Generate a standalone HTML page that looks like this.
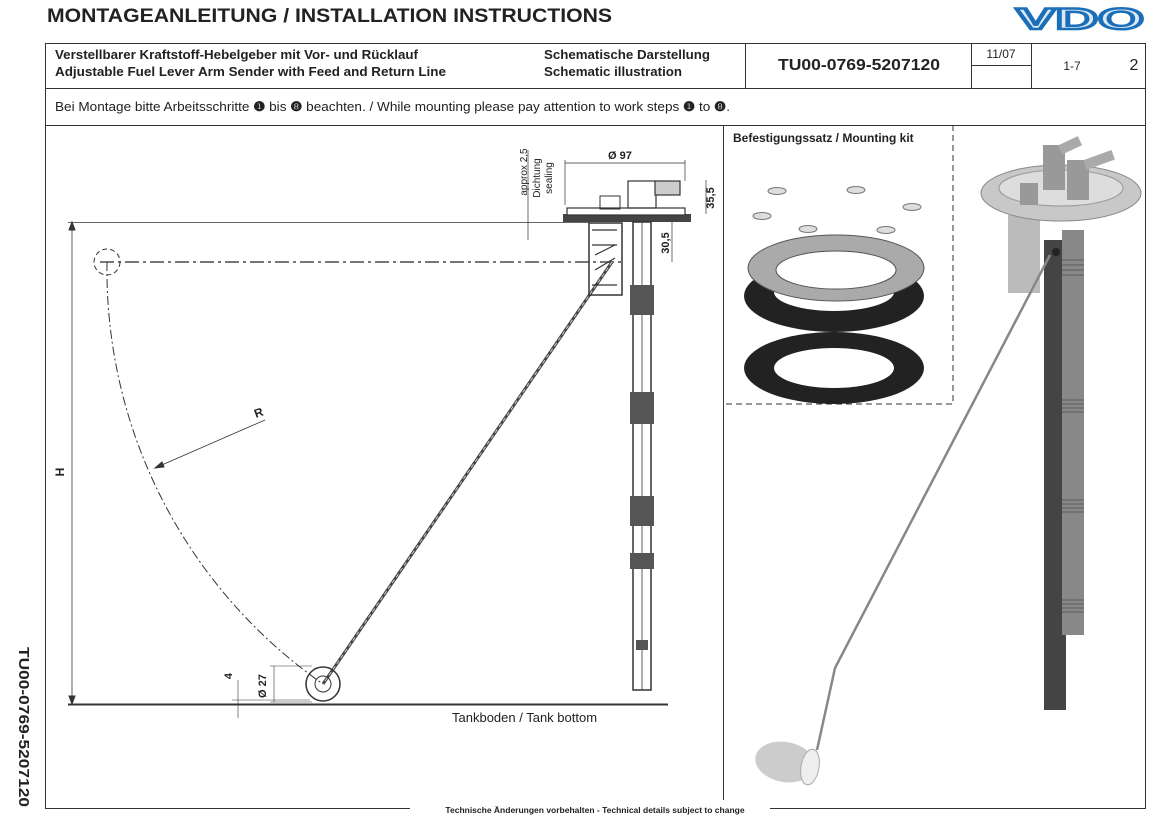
<!DOCTYPE html>
<html><head><meta charset="utf-8"><style>
html,body{margin:0;padding:0;background:#fff;}
body{width:1162px;height:829px;position:relative;overflow:hidden;font-family:"Liberation Sans",sans-serif;}
</style></head><body>
<svg width="1162" height="829" viewBox="0 0 1162 829" xmlns="http://www.w3.org/2000/svg" font-family="Liberation Sans, sans-serif">
<!-- title -->
<text x="47" y="22" font-size="19.5" font-weight="bold" fill="#222" textLength="565" lengthAdjust="spacingAndGlyphs">MONTAGEANLEITUNG  /  INSTALLATION INSTRUCTIONS</text>
<text x="1016" y="29" font-size="30" font-weight="bold" fill="#dbe9f6" stroke="#1a6fb8" stroke-width="2.5" textLength="128" lengthAdjust="spacingAndGlyphs">VDO</text>
<!-- header table -->
<g stroke="#333" stroke-width="1" fill="none">
<rect x="45.5" y="43.5" width="1100" height="765"/>
<line x1="45" y1="88.5" x2="1146" y2="88.5"/>
<line x1="45" y1="125.5" x2="1146" y2="125.5"/>
<line x1="745.5" y1="43" x2="745.5" y2="88"/>
<line x1="971.5" y1="43" x2="971.5" y2="88"/>
<line x1="1031.5" y1="43" x2="1031.5" y2="88"/>
<line x1="971" y1="65.5" x2="1031" y2="65.5"/>
<line x1="723.5" y1="125" x2="723.5" y2="800"/>
</g>
<rect x="410" y="800" width="360" height="14" fill="#fff"/>
<g font-size="12.5" font-weight="bold" fill="#222">
<text x="55" y="59" textLength="363" lengthAdjust="spacingAndGlyphs">Verstellbarer Kraftstoff-Hebelgeber mit Vor- und Rücklauf</text>
<text x="55" y="76" textLength="391" lengthAdjust="spacingAndGlyphs">Adjustable Fuel Lever Arm Sender with Feed and Return Line</text>
<text x="544" y="59" textLength="166" lengthAdjust="spacingAndGlyphs">Schematische Darstellung</text>
<text x="544" y="76" textLength="138" lengthAdjust="spacingAndGlyphs">Schematic illustration</text>
<text x="778" y="70" font-size="16" textLength="162" lengthAdjust="spacingAndGlyphs">TU00-0769-5207120</text>
</g>
<text x="1001" y="58" font-size="12" text-anchor="middle" fill="#222">11/07</text>
<text x="1072" y="70" font-size="12" text-anchor="middle" fill="#222">1-7</text>
<text x="1134" y="70" font-size="16" text-anchor="middle" fill="#222">2</text>
<text x="55" y="111" font-size="13" fill="#222" textLength="675" lengthAdjust="spacingAndGlyphs">Bei Montage bitte Arbeitsschritte <tspan font-weight="bold">❶</tspan> bis <tspan font-weight="bold">❽</tspan> beachten. / While mounting please pay attention to work steps <tspan font-weight="bold">❶</tspan> to <tspan font-weight="bold">❽</tspan>.</text>
<text x="595" y="813" font-size="8.5" font-weight="bold" text-anchor="middle" fill="#222">Technische Änderungen vorbehalten  -  Technical details subject to change</text>
<text transform="translate(19,647) rotate(90)" font-size="15" font-weight="bold" fill="#222" textLength="160" lengthAdjust="spacingAndGlyphs">TU00-0769-5207120</text>

<!-- drawing left -->
<g stroke="#333" fill="none">
<line x1="68" y1="704.5" x2="668" y2="704.5" stroke-width="2"/>
<line x1="68" y1="222.5" x2="590" y2="222.5" stroke-width="0.8"/>
<line x1="72" y1="226" x2="72" y2="700" stroke-width="0.8"/>
<path d="M72 222 l-3 8 h6z M72 704 l-3 -8 h6z" fill="#333"/>
<line x1="100" y1="262" x2="625" y2="262" stroke-width="2" stroke-dasharray="14,4,3,4" stroke="#777"/>
<path d="M107 262 A505 505 0 0 0 323 684" stroke-width="1" stroke-dasharray="9,3,2,3"/>
<circle cx="107" cy="262" r="13" stroke-width="1" stroke-dasharray="5,3"/>
<line x1="612" y1="262" x2="323" y2="684" stroke-width="3" stroke="#444"/>
<line x1="612" y1="262" x2="323" y2="684" stroke-width="1" stroke="#ccc" stroke-dasharray="4,3"/>
<circle cx="323" cy="684" r="17" stroke-width="1.5"/>
<circle cx="323" cy="684" r="8" stroke-width="1"/>
<line x1="155" y1="468" x2="265" y2="420" stroke-width="0.8"/>
<path d="M155 468 l7 -6 l2 5z" fill="#333"/>
<line x1="270" y1="666" x2="312" y2="666" stroke-width="0.6"/>
<line x1="270" y1="702" x2="312" y2="702" stroke-width="0.6"/>
<line x1="274" y1="666" x2="274" y2="702" stroke-width="0.6"/>
<line x1="238" y1="680" x2="238" y2="718" stroke-width="0.6"/>
<line x1="232" y1="700" x2="310" y2="700" stroke-width="0.6"/>
<!-- flange -->
<rect x="563" y="214" width="128" height="8" fill="#444" stroke="none"/>
<rect x="567" y="208" width="118" height="7" fill="#fff" stroke-width="1.2"/>
<rect x="600" y="196" width="20" height="13" stroke-width="1"/>
<rect x="628" y="181" width="28" height="27" stroke-width="1.2"/>
<rect x="655" y="181" width="25" height="14" stroke-width="1.2" fill="#ccc"/>
<line x1="565" y1="163" x2="685" y2="163" stroke-width="0.7"/>
<line x1="565" y1="160" x2="565" y2="205" stroke-width="0.7"/>
<line x1="685" y1="160" x2="685" y2="181" stroke-width="0.7"/>
<line x1="706" y1="180" x2="706" y2="214" stroke-width="0.7"/>
<line x1="672" y1="222" x2="672" y2="262" stroke-width="0.7"/>
<line x1="528" y1="150" x2="528" y2="240" stroke-width="0.7"/>
<!-- bracket -->
<rect x="589" y="223" width="33" height="72" stroke-width="1.5"/>
<path d="M592 230 h25 M592 245 h25 M595 255 l20 -10 M595 270 l20 -12 M592 285 h25" stroke-width="1.2"/>
<!-- tube -->
<rect x="633" y="222" width="18" height="468" fill="#fff" stroke-width="1.5"/>
<line x1="642" y1="222" x2="642" y2="690" stroke-width="0.8"/>
</g>
<g fill="#555">
<rect x="630" y="285" width="24" height="30"/>
<rect x="630" y="392" width="24" height="32"/>
<rect x="630" y="496" width="24" height="30"/>
<rect x="630" y="553" width="24" height="16"/>
<rect x="636" y="640" width="12" height="10"/>
</g>
<g font-size="11" font-weight="bold" fill="#222">
<text x="608" y="159">Ø 97</text>
<text x="64" y="472" transform="rotate(-90 64 472)" text-anchor="middle" font-size="12">H</text>
<text x="256" y="418" transform="rotate(-20 256 418)" font-size="12">R</text>
<text x="266" y="686" transform="rotate(-90 266 686)" text-anchor="middle">Ø 27</text>
<text x="232" y="676" transform="rotate(-90 232 676)" text-anchor="middle">4</text>
<text x="714" y="198" transform="rotate(-90 714 198)" text-anchor="middle">35,5</text>
<text x="669" y="243" transform="rotate(-90 669 243)" text-anchor="middle">30,5</text>
</g>
<g font-size="10" fill="#222">
<text x="527" y="172" transform="rotate(-90 527 172)" text-anchor="middle">approx 2,5</text>
<text x="540" y="178" transform="rotate(-90 540 178)" text-anchor="middle">Dichtung</text>
<text x="552" y="178" transform="rotate(-90 552 178)" text-anchor="middle">sealing</text>
</g>
<text x="452" y="722" font-size="13" fill="#222">Tankboden / Tank bottom</text>

<!-- mounting kit -->
<path d="M953 125 V404 H724" stroke="#333" stroke-dasharray="6,4" fill="none"/>
<text x="733" y="142" font-size="12" font-weight="bold" fill="#222">Befestigungssatz / Mounting kit</text>
<g fill="#ddd" stroke="#777" stroke-width="1">
<ellipse cx="777" cy="191" rx="9" ry="3.5"/><ellipse cx="856" cy="190" rx="9" ry="3.5"/>
<ellipse cx="762" cy="216" rx="9" ry="3.5"/><ellipse cx="912" cy="207" rx="9" ry="3.5"/>
<ellipse cx="808" cy="229" rx="9" ry="3.5"/><ellipse cx="886" cy="230" rx="9" ry="3.5"/>
</g>
<ellipse cx="834" cy="368" rx="90" ry="36" fill="#222"/>
<ellipse cx="834" cy="368" rx="60" ry="20" fill="#fff"/>
<ellipse cx="834" cy="296" rx="90" ry="36" fill="#222"/>
<ellipse cx="834" cy="292" rx="60" ry="19" fill="#fff"/>
<ellipse cx="836" cy="268" rx="88" ry="33" fill="#aaa" stroke="#555"/>
<ellipse cx="836" cy="270" rx="60" ry="19" fill="#fff" stroke="#555"/>

<!-- 3D render -->
<rect x="1044" y="240" width="22" height="470" fill="#444"/>
<rect x="1062" y="230" width="22" height="405" fill="#888"/>
<g stroke="#666" stroke-width="1.2">
<path d="M1062 400 h22 M1062 404 h22 M1062 408 h22 M1062 412 h22 M1062 500 h22 M1062 504 h22 M1062 508 h22 M1062 512 h22 M1062 600 h22 M1062 604 h22 M1062 608 h22 M1062 612 h22 M1062 260 h22 M1062 265 h22 M1062 270 h22 M1062 275 h22"/>
</g>
<rect x="1008" y="215" width="32" height="78" fill="#bbb"/>
<ellipse cx="1061" cy="193" rx="80" ry="28" fill="#c8c8c8" stroke="#888"/>
<ellipse cx="1061" cy="188" rx="62" ry="18" fill="#ddd" stroke="#999"/>
<rect x="1043" y="145" width="22" height="45" fill="#999"/>
<rect x="1067" y="160" width="22" height="40" fill="#999"/>
<rect x="1060" y="145" width="22" height="10" fill="#aaa" transform="rotate(-25 1060 150)"/>
<rect x="1085" y="160" width="30" height="10" fill="#aaa" transform="rotate(-20 1085 165)"/>
<rect x="1020" y="183" width="18" height="22" fill="#999"/>
<circle cx="1056" cy="252" r="4" fill="#222"/>
<path d="M1050 255 L835 668 L817 750" stroke="#888" stroke-width="2.5" fill="none"/>
<ellipse cx="785" cy="762" rx="30" ry="20" fill="#ccc" transform="rotate(10 785 762)"/>
<ellipse cx="810" cy="767" rx="9" ry="18" fill="#eee" stroke="#aaa" transform="rotate(10 810 767)"/>
</svg>
</body></html>
